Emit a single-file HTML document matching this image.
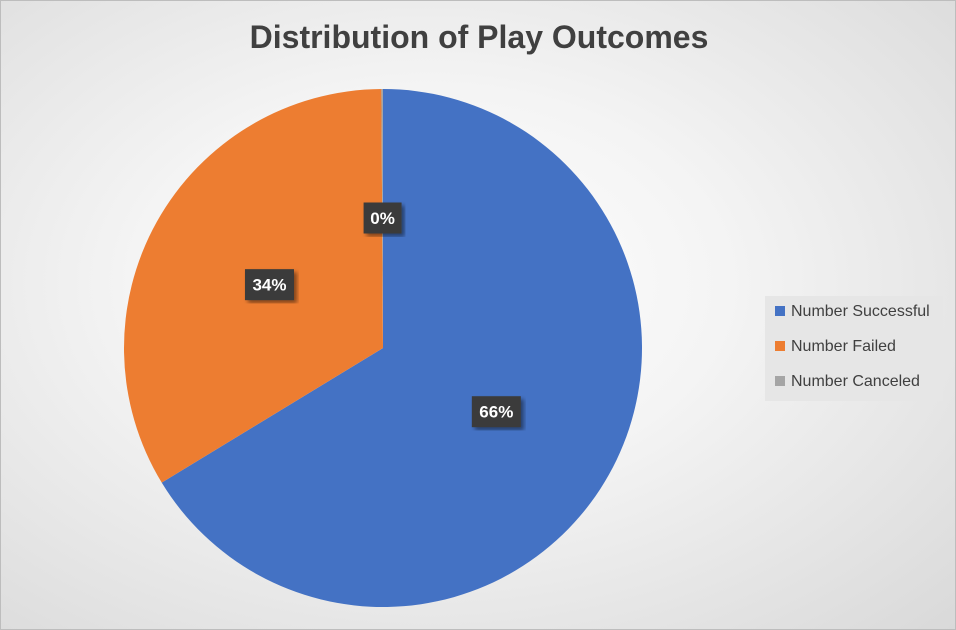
<!DOCTYPE html>
<html><head><meta charset="utf-8"><style>
body{margin:0;}
#chart{position:relative;width:956px;height:630px;background:radial-gradient(ellipse at 45% 45%,#ffffff 0%,#f4f4f4 40%,#d9d9d9 100%);border:1px solid #bdbdbd;box-sizing:border-box;overflow:hidden;font-family:"Liberation Sans",sans-serif;}
#title{position:absolute;left:0;width:956px;top:18px;text-align:center;font-size:32px;font-weight:bold;color:#404040;}
.leg{position:absolute;left:764px;top:295px;width:178px;height:105px;background:#e6e6e6;}
.li{position:absolute;left:10px;font-size:16px;color:#404040;}
.sw{display:inline-block;width:10px;height:10px;margin-right:6px;}
</style></head><body>
<div id="chart">
<div id="title">Distribution of Play Outcomes</div>
<svg id="pie" width="956" height="630" style="position:absolute;left:0;top:0">
<defs><filter id="sh"><feDropShadow dx="3" dy="3" stdDeviation="2" flood-opacity="0.45"/></filter></defs>
</svg>
<div class="leg">
<div class="li" style="top:7px"><span class="sw" style="background:#4472c4"></span>Number Successful</div>
<div class="li" style="top:42px"><span class="sw" style="background:#ed7d31"></span>Number Failed</div>
<div class="li" style="top:77px"><span class="sw" style="background:#a5a5a5"></span>Number Canceled</div>
</div>
</div>
<script>
const categories=["Number Successful","Number Failed","Number Canceled"];
const values=[66.3,33.6,0.1];
const labels=["66%","34%","0%"];
const colors=["#4472c4","#ed7d31","#a5a5a5"];
const svg=document.getElementById('pie');
const NS="http://www.w3.org/2000/svg";
const cx=382,cy=347,r=259;
const total=values.reduce((a,b)=>a+b,0);
function pt(a,d){return [cx+d*Math.sin(a),cy-d*Math.cos(a)];}
let a0=0;
const mids=[];
values.forEach((v,i)=>{
  const a1=a0+v/total*2*Math.PI;
  const p0=pt(a0,r),p1=pt(a1,r);
  const large=(a1-a0)>Math.PI?1:0;
  const path=document.createElementNS(NS,'path');
  path.setAttribute('d',`M${cx},${cy}L${p0[0]},${p0[1]}A${r},${r} 0 ${large} 1 ${p1[0]},${p1[1]}Z`);
  path.setAttribute('fill',colors[i]);
  
  
  svg.appendChild(path);
  mids.push((a0+a1)/2);
  a0=a1;
});
values.forEach((v,i)=>{
  const p=pt(mids[i],130);
  const w=labels[i].length>2?49:38,h=31;
  const g=document.createElementNS(NS,'g');
  
  
  const rc=document.createElementNS(NS,'rect');
  rc.setAttribute('x',p[0]-w/2);rc.setAttribute('y',p[1]-h/2);
  rc.setAttribute('width',w);rc.setAttribute('height',h);
  rc.setAttribute('fill','#3a3a3a');rc.setAttribute('filter','url(#sh)');
  g.appendChild(rc);
  const t=document.createElementNS(NS,'text');
  t.setAttribute('x',p[0]);t.setAttribute('y',p[1]+6);
  t.setAttribute('text-anchor','middle');t.setAttribute('fill','#fff');
  t.setAttribute('font-size','17');t.setAttribute('font-weight','bold');
  t.setAttribute('font-family','Liberation Sans, sans-serif');
  t.textContent=labels[i];
  g.appendChild(t);
  svg.appendChild(g);
});
</script>
</body></html>
